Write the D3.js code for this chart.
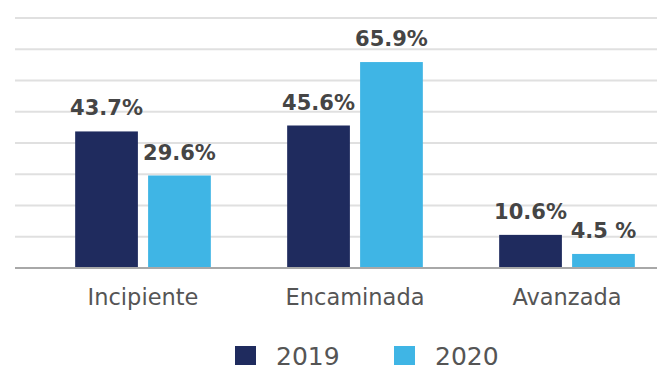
<!DOCTYPE html>
<html>
<head>
<meta charset="utf-8">
<title>Incipiente / Encaminada / Avanzada</title>
<style>
    body { margin: 0; background: #fff; }
    .grid line { stroke: #e0e0e0; stroke-width: 2; }
    .base { stroke: #a8a8a8; stroke-width: 2; }
    .cat { font: 22.5px "DejaVu Sans", sans-serif; fill: #555; }
    .val { font: bold 21px "DejaVu Sans", sans-serif; fill: #454545; }
    .leg { font: 25px "DejaVu Sans", sans-serif; fill: #555; }
</style>
<script src="https://cdn.jsdelivr.net/npm/d3@7"></script>
</head>
<body>
<script>
    var categories = ["Incipiente", "Encaminada", "Avanzada"];
    var years = ["2019", "2020"];
    var values2019 = [43.7, 45.6, 10.6];
    var values2020 = [29.6, 65.9, 4.5];
    var labels2019 = ["43.7%", "45.6%", "10.6%"];
    var labels2020 = ["29.6%", "65.9%", "4.5 %"];
    var gridTicks = [0, 10, 20, 30, 40, 50, 60, 70, 80];
    var colors = ["#1f2b5e", "#3fb5e5"];

    var width = 657, height = 371;

    var data = categories.map(function(c, i) {
        return {
            cat: c,
            bars: [
                { year: years[0], v: values2019[i], label: labels2019[i] },
                { year: years[1], v: values2020[i], label: labels2020[i] }
            ]
        };
    });

    var svg = d3.select("body").append("svg")
        .attr("width", width)
        .attr("height", height);

    var y = d3.scaleLinear().domain([0, 80]).range([268, 18]);

    var x0 = d3.scaleBand()
        .domain(categories)
        .range([37, 673])
        .paddingInner(0.36)
        .paddingOuter(0.18);

    var x1 = d3.scaleBand()
        .domain(years)
        .range([0, x0.bandwidth()])
        .paddingInner(0.14);

    var color = d3.scaleOrdinal().domain(years).range(colors);

    // gridlines
    svg.append("g")
        .attr("class", "grid")
        .selectAll("line")
        .data(gridTicks.slice(1))
        .enter().append("line")
        .attr("x1", 15)
        .attr("x2", width)
        .attr("y1", function(d) { return y(d); })
        .attr("y2", function(d) { return y(d); });

    var groups = svg.selectAll(".group")
        .data(data)
        .enter().append("g")
        .attr("class", "group")
        .attr("transform", function(d) { return "translate(" + x0(d.cat) + ",0)"; });

    groups.selectAll("rect")
        .data(function(d) { return d.bars; })
        .enter().append("rect")
        .attr("x", function(d) { return x1(d.year); })
        .attr("y", function(d) { return y(d.v); })
        .attr("width", x1.bandwidth())
        .attr("height", function(d) { return y(0) - y(d.v); })
        .attr("fill", function(d) { return color(d.year); });

    groups.selectAll(".val")
        .data(function(d) { return d.bars; })
        .enter().append("text")
        .attr("class", "val")
        .attr("x", function(d) { return x1(d.year) + x1.bandwidth() / 2; })
        .attr("y", function(d) { return y(d.v) - 16; })
        .attr("text-anchor", "middle")
        .text(function(d) { return d.label; });

    // baseline
    svg.append("line")
        .attr("class", "base")
        .attr("x1", 15)
        .attr("x2", width)
        .attr("y1", y(0))
        .attr("y2", y(0));

    // category labels
    svg.selectAll(".cat")
        .data(categories)
        .enter().append("text")
        .attr("class", "cat")
        .attr("x", function(d) { return x0(d) + x0.bandwidth() / 2; })
        .attr("y", 305)
        .attr("text-anchor", "middle")
        .text(function(d) { return d; });

    // legend
    var legX = [235, 394];
    var leg = svg.selectAll(".legitem")
        .data(years)
        .enter().append("g")
        .attr("class", "legitem")
        .attr("transform", function(d, i) { return "translate(" + legX[i] + ",346)"; });

    leg.append("rect")
        .attr("width", 21)
        .attr("height", 19)
        .attr("fill", function(d) { return color(d); });

    leg.append("text")
        .attr("class", "leg")
        .attr("x", 41)
        .attr("y", 19)
        .text(function(d) { return d; });
</script>
</body>
</html>
